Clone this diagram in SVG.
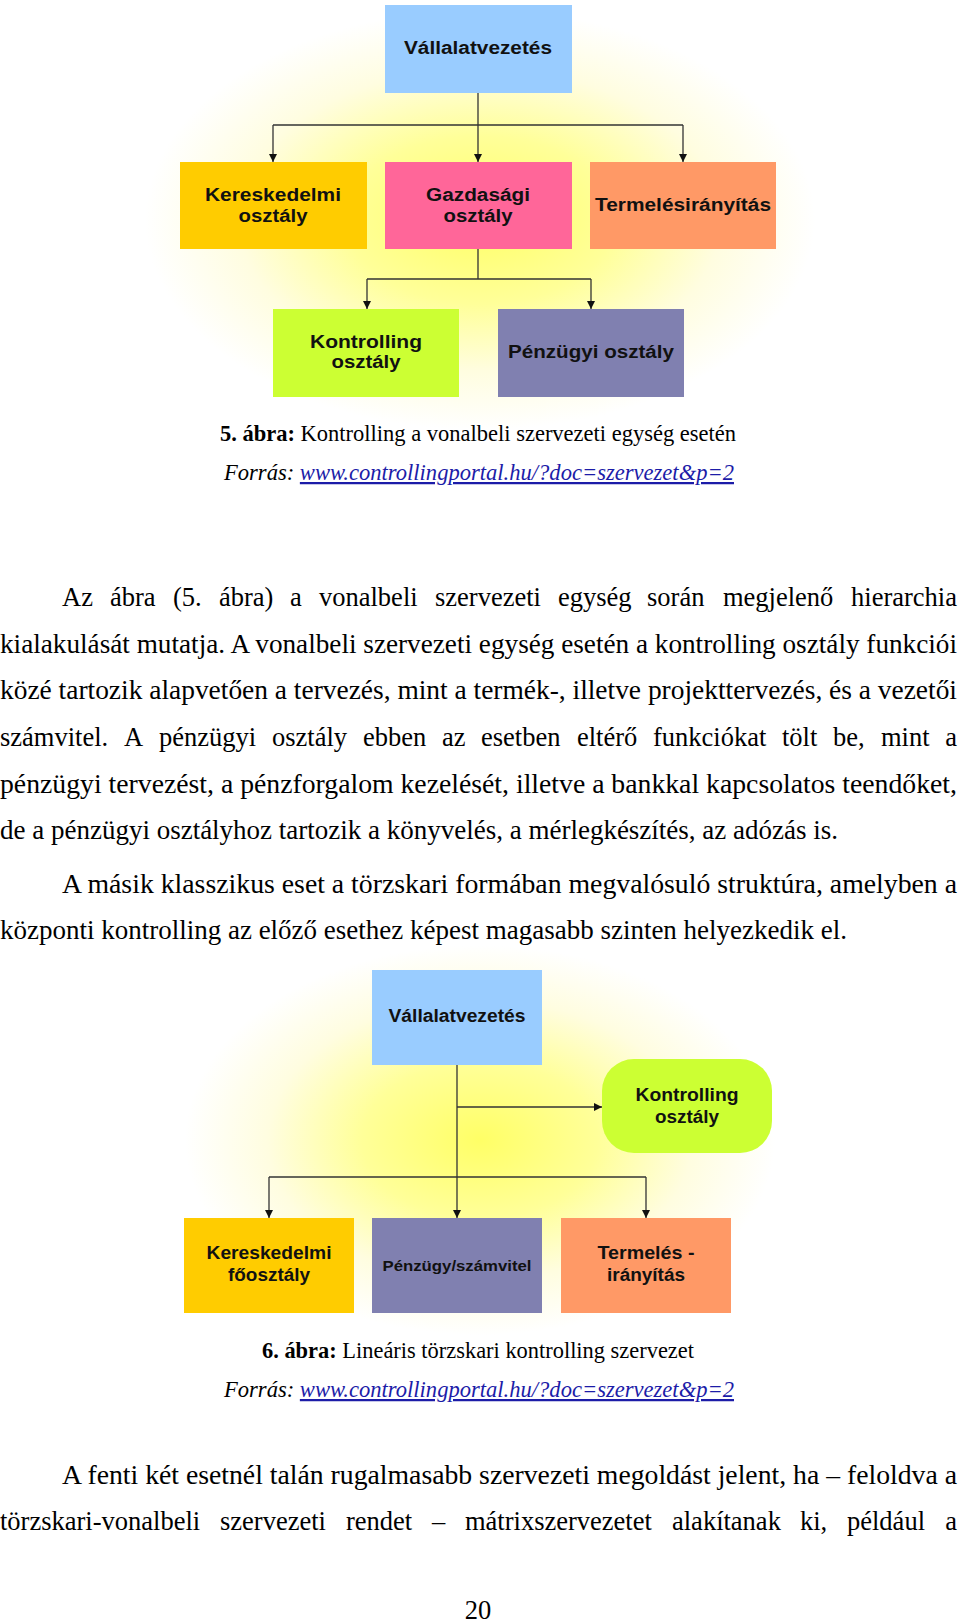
<svg xmlns="http://www.w3.org/2000/svg" width="960" height="1622" viewBox="0 0 960 1622">
<style>
.lbl{font-family:"Liberation Sans",Arial,sans-serif;font-weight:bold;font-size:17.5px;fill:#111;text-anchor:middle}
.body{font-family:"Liberation Serif","Times New Roman",serif;font-size:26.5px;fill:#000}
.cap{font-family:"Liberation Serif","Times New Roman",serif;font-size:22.5px;fill:#000}
.link{fill:#1c1ca8;text-decoration:underline}
.con{fill:none;stroke:#333;stroke-width:1.3}
.arr{marker-end:url(#ah)}
</style>
<defs>
<marker id="ah" markerWidth="8" markerHeight="8" refX="8" refY="4" orient="auto" markerUnits="userSpaceOnUse"><path d="M0,0 L8,4 L0,8 z" fill="#111"/></marker>
<radialGradient id="glow" cx="0.5" cy="0.5" r="0.5">
<stop offset="0" stop-color="#ffff66"/>
<stop offset="0.4" stop-color="#ffff99"/>
<stop offset="0.72" stop-color="#fffde0"/>
<stop offset="1" stop-color="#ffffff"/>
</radialGradient>
</defs>
<rect width="960" height="1622" fill="#fff"/>
<rect x="145" y="10" width="670" height="420" fill="url(#glow)"/>
<rect x="185" y="945" width="590" height="390" fill="url(#glow)"/>

<g id="connectors">
<path class="con arr" d="M478,93 V162"/>
<path class="con" d="M273,125 H683"/>
<path class="con arr" d="M273,125 V162"/>
<path class="con arr" d="M683,125 V162"/>
<path class="con" d="M478,249 V279 M367,279 H591"/>
<path class="con arr" d="M367,279 V309"/>
<path class="con arr" d="M591,279 V309"/>
<path class="con arr" d="M457,1065 V1218"/>
<path class="con arr" d="M457,1107 H602"/>
<path class="con" d="M269,1177 H646"/>
<path class="con arr" d="M269,1177 V1218"/>
<path class="con arr" d="M646,1177 V1218"/>
</g>

<g id="d1-vallalat"><rect x="385" y="5" width="187" height="88" fill="#99ccff"/><text class="lbl" x="478" y="54" textLength="148" lengthAdjust="spacingAndGlyphs">Vállalatvezetés</text></g>
<g id="d1-keresk"><rect x="180" y="162" width="187" height="87" fill="#ffcc00"/><text class="lbl" x="273" y="201" textLength="136" lengthAdjust="spacingAndGlyphs">Kereskedelmi</text><text class="lbl" x="273" y="222" textLength="69" lengthAdjust="spacingAndGlyphs">osztály</text></g>
<g id="d1-gazd"><rect x="385" y="162" width="187" height="87" fill="#ff6699"/><text class="lbl" x="478" y="201" textLength="104" lengthAdjust="spacingAndGlyphs">Gazdasági</text><text class="lbl" x="478" y="222" textLength="69" lengthAdjust="spacingAndGlyphs">osztály</text></g>
<g id="d1-termel"><rect x="590" y="162" width="186" height="87" fill="#ff9966"/><text class="lbl" x="683" y="211" textLength="176" lengthAdjust="spacingAndGlyphs">Termelésirányítás</text></g>
<g id="d1-kontr"><rect x="273" y="309" width="186" height="88" fill="#ccff33"/><text class="lbl" x="366" y="348" textLength="112" lengthAdjust="spacingAndGlyphs">Kontrolling</text><text class="lbl" x="366" y="368" textLength="69" lengthAdjust="spacingAndGlyphs">osztály</text></g>
<g id="d1-penz"><rect x="498" y="309" width="186" height="88" fill="#8080b0"/><text class="lbl" x="591" y="358" textLength="166" lengthAdjust="spacingAndGlyphs">Pénzügyi osztály</text></g>

<text class="cap" x="220" y="441" textLength="516" lengthAdjust="spacingAndGlyphs"><tspan font-weight="bold">5. ábra:</tspan> Kontrolling a vonalbeli szervezeti egység esetén</text>
<text class="cap" x="224" y="480" font-style="italic" textLength="510" lengthAdjust="spacingAndGlyphs">Forrás: <tspan class="link">www.controllingportal.hu/?doc=szervezet&amp;p=2</tspan></text>

<text class="body" y="606"><tspan x="62">Az</tspan><tspan x="110">ábra</tspan><tspan x="173">(5.</tspan><tspan x="219">ábra)</tspan><tspan x="290">a</tspan><tspan x="319">vonalbeli</tspan><tspan x="435">szervezeti</tspan><tspan x="558">egység</tspan><tspan x="647">során</tspan><tspan x="723">megjelenő</tspan><tspan x="957" text-anchor="end">hierarchia</tspan></text>
<text class="body" x="0" y="653" textLength="957" lengthAdjust="spacingAndGlyphs">kialakulását mutatja. A vonalbeli szervezeti egység esetén a kontrolling osztály funkciói</text>
<text class="body" x="0" y="699" textLength="957" lengthAdjust="spacingAndGlyphs">közé tartozik alapvetően a tervezés, mint a termék-, illetve projekttervezés, és a vezetői</text>
<text class="body" y="746"><tspan x="0">számvitel.</tspan><tspan x="124">A</tspan><tspan x="159">pénzügyi</tspan><tspan x="272">osztály</tspan><tspan x="363">ebben</tspan><tspan x="442">az</tspan><tspan x="481">esetben</tspan><tspan x="577">eltérő</tspan><tspan x="653">funkciókat</tspan><tspan x="782">tölt</tspan><tspan x="833">be,</tspan><tspan x="881">mint</tspan><tspan x="957" text-anchor="end">a</tspan></text>
<text class="body" x="0" y="793" textLength="957" lengthAdjust="spacingAndGlyphs">pénzügyi tervezést, a pénzforgalom kezelését, illetve a bankkal kapcsolatos teendőket,</text>
<text class="body" x="0" y="839" textLength="838" lengthAdjust="spacingAndGlyphs">de a pénzügyi osztályhoz tartozik a könyvelés, a mérlegkészítés, az adózás is.</text>
<text class="body" x="62" y="893" textLength="895" lengthAdjust="spacingAndGlyphs">A másik klasszikus eset a törzskari formában megvalósuló struktúra, amelyben a</text>
<text class="body" x="0" y="939" textLength="847" lengthAdjust="spacingAndGlyphs">központi kontrolling az előző esethez képest magasabb szinten helyezkedik el.</text>

<g id="d2-vallalat"><rect x="372" y="970" width="170" height="95" fill="#99ccff"/><text class="lbl" x="457" y="1022" textLength="137" lengthAdjust="spacingAndGlyphs">Vállalatvezetés</text></g>
<g id="d2-kontr"><rect x="602" y="1059" width="170" height="94" rx="32" ry="32" fill="#ccff33"/><text class="lbl" x="687" y="1101" textLength="103" lengthAdjust="spacingAndGlyphs">Kontrolling</text><text class="lbl" x="687" y="1123" textLength="64" lengthAdjust="spacingAndGlyphs">osztály</text></g>
<g id="d2-keresk"><rect x="184" y="1218" width="170" height="95" fill="#ffcc00"/><text class="lbl" x="269" y="1259" textLength="125" lengthAdjust="spacingAndGlyphs">Kereskedelmi</text><text class="lbl" x="269" y="1281" textLength="82" lengthAdjust="spacingAndGlyphs">főosztály</text></g>
<g id="d2-penz"><rect x="372" y="1218" width="170" height="95" fill="#8080b0"/><text class="lbl" x="457" y="1271" style="font-size:15px" textLength="149" lengthAdjust="spacingAndGlyphs">Pénzügy/számvitel</text></g>
<g id="d2-termel"><rect x="561" y="1218" width="170" height="95" fill="#ff9966"/><text class="lbl" x="646" y="1259" textLength="97" lengthAdjust="spacingAndGlyphs">Termelés -</text><text class="lbl" x="646" y="1281" textLength="78" lengthAdjust="spacingAndGlyphs">irányítás</text></g>

<text class="cap" x="262" y="1358" textLength="432" lengthAdjust="spacingAndGlyphs"><tspan font-weight="bold">6. ábra:</tspan> Lineáris törzskari kontrolling szervezet</text>
<text class="cap" x="224" y="1397" font-style="italic" textLength="510" lengthAdjust="spacingAndGlyphs">Forrás: <tspan class="link">www.controllingportal.hu/?doc=szervezet&amp;p=2</tspan></text>

<text class="body" x="62" y="1484" textLength="895" lengthAdjust="spacingAndGlyphs">A fenti két esetnél talán rugalmasabb szervezeti megoldást jelent, ha – feloldva a</text>
<text class="body" y="1530"><tspan x="0">törzskari-vonalbeli</tspan><tspan x="220">szervezeti</tspan><tspan x="346">rendet</tspan><tspan x="432">–</tspan><tspan x="465">mátrixszervezetet</tspan><tspan x="672">alakítanak</tspan><tspan x="800">ki,</tspan><tspan x="847">például</tspan><tspan x="957" text-anchor="end">a</tspan></text>
<text class="body" x="478" y="1619" text-anchor="middle">20</text>
</svg>
